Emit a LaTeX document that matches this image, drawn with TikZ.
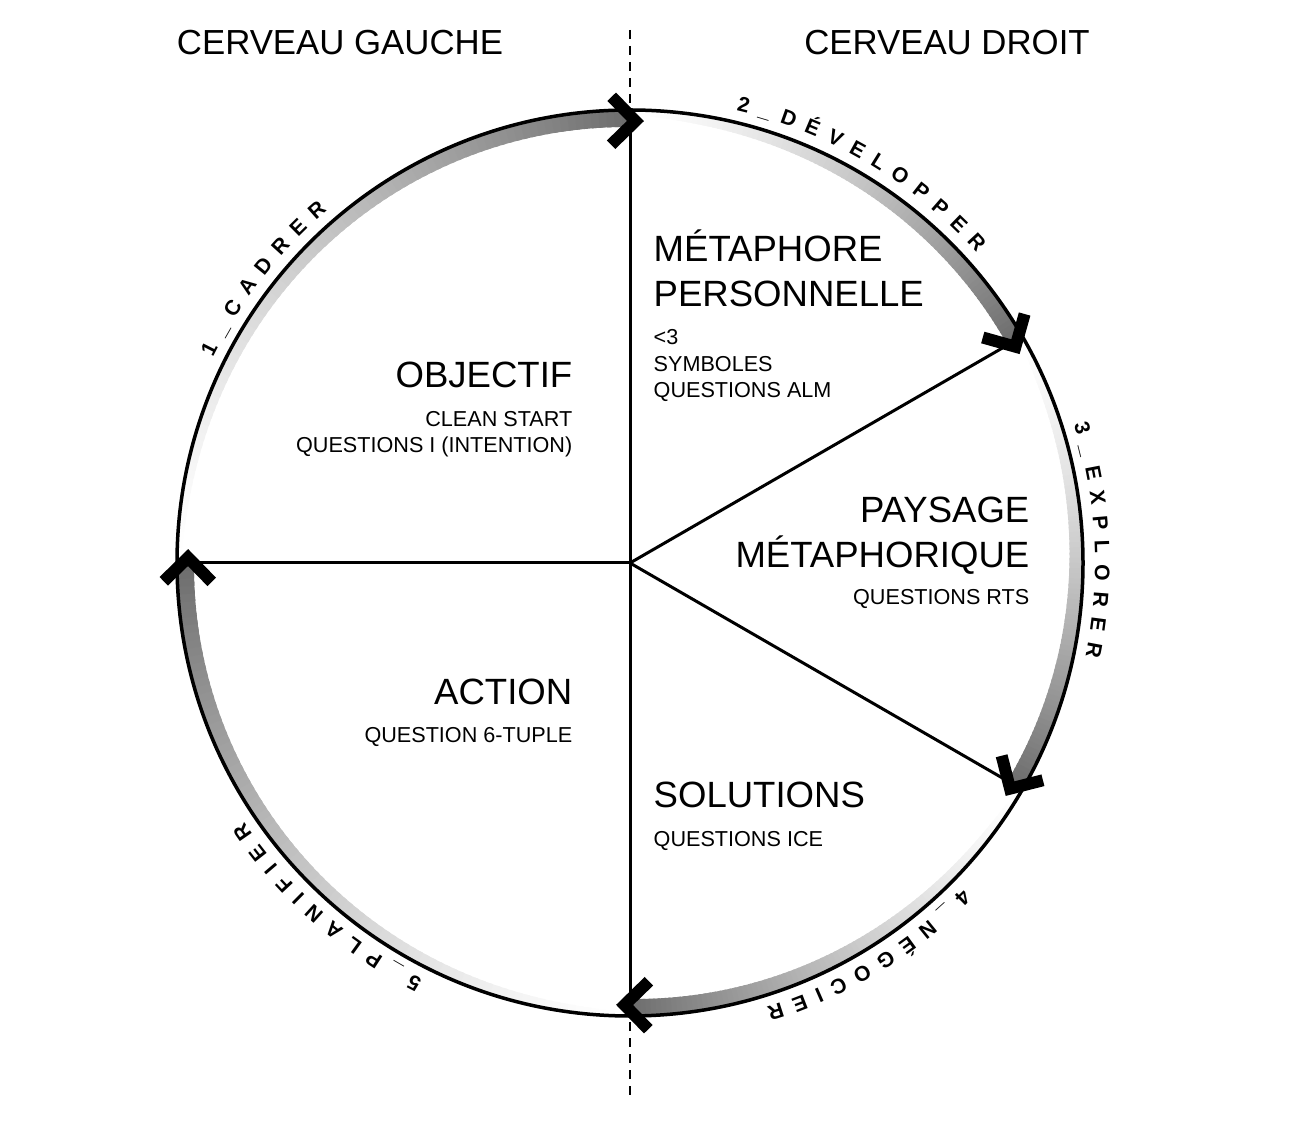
\documentclass[tikz,border=0pt]{standalone}
\usepackage{fontspec}
\setmainfont{Liberation Sans}
\newfontfamily\arcfont[WordSpace=1.8]{Liberation Sans}
\usepackage{tikz}
\usetikzlibrary{decorations.text}
\newcommand{\crad}{4.53}
\newcommand{\titlefnt}{\fontsize{10.4pt}{12pt}\selectfont}
\newcommand{\subfnt}{\fontsize{6.15pt}{7pt}\selectfont}
\newcommand{\headfnt}{\fontsize{9.9pt}{11pt}\selectfont}
\newcommand{\arcfnt}{\arcfont\bfseries\fontsize{6pt}{7pt}\selectfont}
\newcommand{\phaseband}[2]{%
\foreach \i in {0,...,89}{%
\pgfmathsetmacro{\anga}{#1+(#2-#1)*\i/90}%
\pgfmathsetmacro{\angb}{#1+(#2-#1)*(\i+1.5)/90}%
\pgfmathsetmacro{\bandw}{0.01+0.16*(\i/89)^0.35}%
\pgfmathsetmacro{\bandr}{\crad-\bandw/2}%
\pgfmathsetmacro{\bandc}{57*(\i/89)^1.4}%
\draw[line width=\bandw cm,draw=black!\bandc] (\anga:\bandr) arc[start angle=\anga,end angle=\angb,radius=\bandr];}}
\newcommand{\chevron}[1]{%
\draw[chev,shift={({#1-0.7}:{\crad-0.11})},rotate=#1-90.7] (-0.24,0.24) -- (0,0) -- (-0.24,-0.24);}
\newcommand{\phaselabel}[2]{%
\path[decorate,decoration={text along path,text align=center,text={|\arcfnt|#2}}] ({#1+30}:4.65) arc[start angle=#1+30,end angle=#1-30,radius=4.65];}

\begin{document}
\begin{tikzpicture}[outl/.style={line width=0.035cm},
spoke/.style={line width=0.03cm},
split/.style={line width=0.02cm,dash pattern=on 0.09cm off 0.07cm},
chev/.style={line width=0.12cm},
head/.style={inner sep=0pt,font=\headfnt},
ttl/.style={inner sep=0pt,font=\titlefnt},
sub/.style={inner sep=0pt,font=\subfnt}]
\useasboundingbox (-6.30,-5.58) rectangle (6.67,5.63);
\coordinate (ctr) at (0,0);
\coordinate (p90) at (90:\crad);
\coordinate (p30) at (30:\crad);
\coordinate (pm30) at (-30:\crad);
\coordinate (pm90) at (-90:\crad);
\coordinate (p180) at (180:\crad);
\coordinate (dtop) at (0,5.33);
\coordinate (dbot) at (0,-5.34);
\draw[split] (dtop) -- (dbot);
\phaseband{180}{90}
\phaseband{90}{30}
\phaseband{30}{-30}
\phaseband{-30}{-90}
\phaseband{-90}{-180}
\draw[spoke] (ctr) -- (p90);
\draw[spoke] (ctr) -- (p30);
\draw[spoke] (ctr) -- (pm30);
\draw[spoke] (ctr) -- (pm90);
\draw[spoke] (ctr) -- (p180);
\draw[outl] (ctr) circle[radius=\crad];
\chevron{90}
\chevron{30}
\chevron{-30}
\chevron{-90}
\chevron{180}
\phaselabel{142.2}{1 {\textunderscore} C A D R E R}
\phaselabel{59.3}{2 {\textunderscore} D É V E L O P P E R}
\phaselabel{2.9}{3 {\textunderscore} E X P L O R E R}
\phaselabel{-58.7}{4 {\textunderscore} N É G O C I E R}
\phaselabel{-131.3}{5 {\textunderscore} P L A N I F I E R}
\node[head,anchor=base] (lefthead) at (-2.90,5.08) {CERVEAU GAUCHE};
\node[head,anchor=base] (righthead) at (3.17,5.08) {CERVEAU DROIT};
\node[ttl,anchor=base east] (obj) at (-0.57,1.75) {OBJECTIF};
\node[sub,anchor=base east] (objq1) at (-0.57,1.36) {CLEAN START};
\node[sub,anchor=base east] (objq2) at (-0.57,1.10) {QUESTIONS I (INTENTION)};
\node[ttl,anchor=base west] (meta1) at (0.23,3.01) {MÉTAPHORE};
\node[ttl,anchor=base west] (meta2) at (0.23,2.56) {PERSONNELLE};
\node[sub,anchor=base west] (metaq1) at (0.23,2.18) {<3};
\node[sub,anchor=base west] (metaq2) at (0.23,1.91) {SYMBOLES};
\node[sub,anchor=base west] (metaq3) at (0.23,1.65) {QUESTIONS ALM};
\node[ttl,anchor=base east] (pays1) at (4.00,0.40) {PAYSAGE};
\node[ttl,anchor=base east] (pays2) at (4.00,-0.05) {MÉTAPHORIQUE};
\node[sub,anchor=base east] (paysq) at (4.00,-0.42) {QUESTIONS RTS};
\node[ttl,anchor=base east] (act) at (-0.57,-1.42) {ACTION};
\node[sub,anchor=base east] (actq) at (-0.57,-1.80) {QUESTION 6-TUPLE};
\node[ttl,anchor=base west] (sol) at (0.23,-2.45) {SOLUTIONS};
\node[sub,anchor=base west] (solq) at (0.23,-2.83) {QUESTIONS ICE};
\end{tikzpicture}
\end{document}
